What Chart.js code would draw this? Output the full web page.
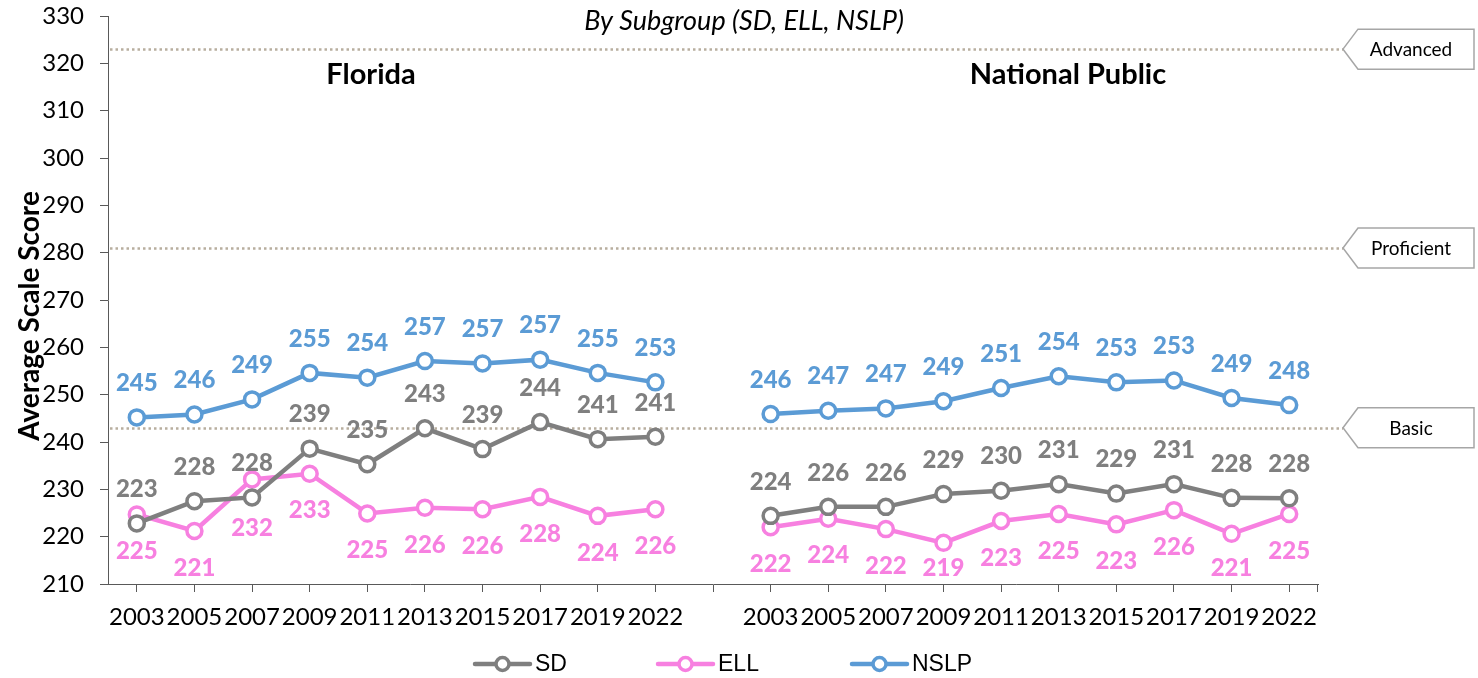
<!DOCTYPE html>
<html>
<head>
<meta charset="utf-8">
<script src="https://cdn.jsdelivr.net/npm/chart.js@4.4.1/dist/chart.umd.min.js"></script>
<style>
html,body{margin:0;padding:0;background:#fff;font-family:Lato;}
#wrap{width:1478px;height:678px;position:relative;}
</style>
</head>
<body>
<div id="wrap"><canvas id="c" width="1478" height="678"></canvas></div>
<script>
// ---- data ----
const years = ['2003','2005','2007','2009','2011','2013','2015','2017','2019','2022'];
const categories = [...years, '', ...years];

const flSD   = [222.8, 227.5, 228.3, 238.6, 235.3, 242.9, 238.5, 244.2, 240.6, 241.1];
const flELL  = [224.7, 221.2, 232.1, 233.3, 224.9, 226.1, 225.8, 228.4, 224.4, 225.8];
const flNSLP = [245.2, 245.8, 249.0, 254.6, 253.6, 257.1, 256.6, 257.4, 254.6, 252.6];

const npSD   = [224.4, 226.3, 226.3, 229.0, 229.7, 231.1, 229.1, 231.1, 228.2, 228.1];
const npELL  = [222.0, 223.8, 221.6, 218.7, 223.3, 224.8, 222.6, 225.6, 220.6, 224.8];
const npNSLP = [245.9, 246.6, 247.1, 248.6, 251.4, 253.9, 252.6, 253.0, 249.3, 247.8];

const seriesNames = ['SD', 'ELL', 'NSLP'];
const benchmarkNames  = ['Advanced', 'Proficient', 'Basic'];
const benchmarkValues = [323, 281, 243];
const yMin = 210, yMax = 330, yStep = 10;

const panelTitles = ['Florida', 'National Public'];
const subtitle = 'By Subgroup (SD, ELL, NSLP)';
const yTitle = 'Average Scale Score';

// ---- styles ----
const colors = { SD: '#7f7f7f', ELL: '#f780e0', NSLP: '#5b9bd5' };
const labelSide = { SD: -34, ELL: 37, NSLP: -34 };
const labelNudge = { ELL: { 2: 12 } };   // manual label placement tweaks (px)
const axisColor = '#595959';

function joinPanels(a, b) { return [...a, null, ...b]; }

const seriesData = {
  SD: joinPanels(flSD, npSD),
  ELL: joinPanels(flELL, npELL),
  NSLP: joinPanels(flNSLP, npNSLP)
};

const datasets = seriesNames.map(name => ({
  label: name,
  data: seriesData[name],
  borderColor: colors[name],
  backgroundColor: colors[name],
  borderWidth: 4.5,
  pointRadius: 7.5,
  pointBorderWidth: 3.5,
  pointBackgroundColor: '#ffffff',
  pointBorderColor: colors[name],
  pointHoverRadius: 7.5,
  tension: 0,
  spanGaps: false,
  fill: false
}));

const decorPlugin = {
  id: 'decor',
  beforeDatasetsDraw(chart) {
    const ctx = chart.ctx;
    const y = chart.scales.y;
    const left = chart.chartArea.left;
    ctx.save();
    ctx.strokeStyle = '#b8ae9f';
    ctx.lineWidth = 2.5;
    ctx.setLineDash([2.5, 3]);
    benchmarkValues.forEach(v => {
      const py = Math.round(y.getPixelForValue(v)) + 0.5;
      ctx.beginPath();
      ctx.moveTo(left + 2, py);
      ctx.lineTo(1343, py);
      ctx.stroke();
    });
    ctx.restore();
  },
  afterDatasetsDraw(chart) {
    const ctx = chart.ctx;
    const maxY = chart.chartArea.bottom - 16;
    ctx.save();
    ctx.font = '900 24px Lato';
    ctx.textAlign = 'center';
    ctx.textBaseline = 'middle';
    chart.data.datasets.forEach((ds, i) => {
      const meta = chart.getDatasetMeta(i);
      ctx.fillStyle = colors[ds.label];
      const nudges = labelNudge[ds.label] || {};
      meta.data.forEach((pt, j) => {
        const v = ds.data[j];
        if (v === null || v === undefined) return;
        let ly = pt.y + labelSide[ds.label] + (nudges[j] || 0);
        ly = Math.min(ly, maxY);
        ctx.fillText(String(Math.round(v)), pt.x, ly);
      });
    });
    ctx.restore();
  },
  afterDraw(chart) {
    const ctx = chart.ctx;
    const area = chart.chartArea;
    const y = chart.scales.y;
    ctx.save();
    // right end tick of x axis
    ctx.strokeStyle = axisColor;
    ctx.lineWidth = 1;
    ctx.beginPath();
    ctx.moveTo(Math.round(area.right) - 0.5, area.bottom);
    ctx.lineTo(Math.round(area.right) - 0.5, area.bottom + 8);
    ctx.stroke();

    // benchmark tags
    benchmarkValues.forEach((v, i) => {
      const cy = y.getPixelForValue(v);
      const x0 = 1343, x1 = 1358, x2 = 1474, h = 20;
      ctx.beginPath();
      ctx.moveTo(x0, cy);
      ctx.lineTo(x1, cy - h);
      ctx.lineTo(x2, cy - h);
      ctx.lineTo(x2, cy + h);
      ctx.lineTo(x1, cy + h);
      ctx.closePath();
      ctx.fillStyle = '#ffffff';
      ctx.fill();
      ctx.strokeStyle = '#a6a6a6';
      ctx.lineWidth = 1.5;
      ctx.setLineDash([]);
      ctx.stroke();
      ctx.fillStyle = '#000000';
      ctx.font = '19px Lato';
      ctx.textAlign = 'center';
      ctx.textBaseline = 'middle';
      ctx.fillText(benchmarkNames[i], 1411, cy + 1);
    });

    // subtitle
    ctx.fillStyle = '#000';
    ctx.font = 'italic 27px Lato';
    ctx.textAlign = 'center';
    ctx.textBaseline = 'middle';
    ctx.fillText(subtitle, 744, 21);

    // panel titles
    ctx.font = 'bold 29px Lato';
    ctx.fillText(panelTitles[0], 371, 75);
    ctx.fillText(panelTitles[1], 1068, 75);

    // y title
    ctx.save();
    ctx.translate(30, 316);
    ctx.rotate(-Math.PI / 2);
    ctx.font = 'bold 28px Lato';
    ctx.fillText(yTitle, 0, 0);
    ctx.restore();

    // legend
    const starts = [475, 658, 852];
    const ly = 664;
    chart.data.datasets.forEach((ds, i) => {
      const sx = starts[i];
      const c = colors[ds.label];
      ctx.strokeStyle = c;
      ctx.lineWidth = 4.5;
      ctx.lineCap = 'round';
      ctx.beginPath();
      ctx.moveTo(sx, ly);
      ctx.lineTo(sx + 55, ly);
      ctx.stroke();
      ctx.beginPath();
      ctx.arc(sx + 27.5, ly, 6.5, 0, Math.PI * 2);
      ctx.fillStyle = '#fff';
      ctx.fill();
      ctx.lineWidth = 3.5;
      ctx.stroke();
      ctx.fillStyle = '#000';
      ctx.font = '23px "Liberation Sans"';
      ctx.textAlign = 'left';
      ctx.textBaseline = 'middle';
      ctx.fillText(ds.label, sx + 60, ly + 1);
    });
    ctx.restore();
  }
};

function build() {
  new Chart(document.getElementById('c'), {
    type: 'line',
    data: { labels: categories, datasets },
    options: {
      responsive: false,
      devicePixelRatio: 1,
      animation: false,
      events: [],
      layout: { padding: { top: 16, right: 160, left: 0, bottom: 0 } },
      plugins: { legend: { display: false }, tooltip: { enabled: false }, title: { display: false } },
      scales: {
        x: {
          type: 'category',
          offset: true,
          grid: { display: true, drawOnChartArea: false, drawTicks: true, tickLength: 8, color: axisColor, offset: false },
          border: { display: true, color: axisColor, width: 1 },
          ticks: { color: '#000', font: { family: 'Lato', size: 24 }, padding: 11, maxRotation: 0, minRotation: 0, autoSkip: false },
          afterFit(s) { s.height = 94; s.paddingLeft = 0; s.paddingRight = 0; }
        },
        y: {
          min: yMin,
          max: yMax,
          grid: { display: true, drawOnChartArea: false, drawTicks: true, tickLength: 8, color: axisColor },
          border: { display: true, color: axisColor, width: 1 },
          ticks: { stepSize: yStep, color: '#000', font: { family: 'Lato', size: 24 }, padding: 16 },
          afterFit(s) { s.width = 108; s.paddingTop = 0; s.paddingBottom = 0; }
        }
      }
    },
    plugins: [decorPlugin]
  });
}

const fontLoads = ['900 24px Lato', 'bold 24px Lato', '24px Lato', 'italic 27px Lato', '23px "Liberation Sans"']
  .map(f => document.fonts.load(f).catch(() => null));
Promise.all(fontLoads).then(build, build);
</script>
</body>
</html>
